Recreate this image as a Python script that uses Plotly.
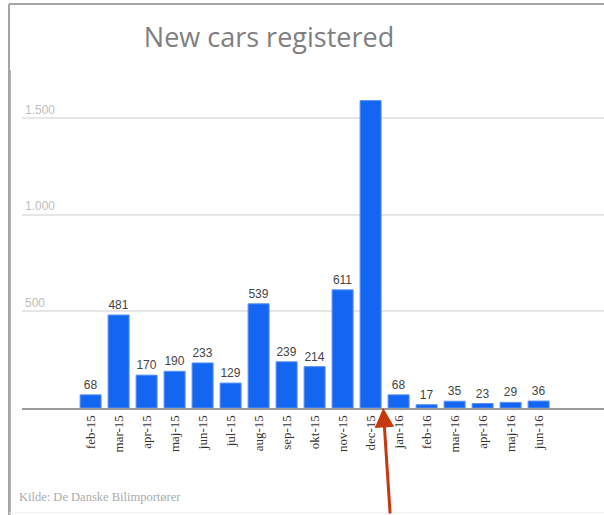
import plotly.graph_objects as go

months = ["feb-15", "mar-15", "apr-15", "maj-15", "jun-15", "jul-15", "aug-15",
          "sep-15", "okt-15", "nov-15", "dec-15", "jan-16", "feb-16", "mar-16",
          "apr-16", "maj-16", "jun-16"]
registered = [68, 481, 170, 190, 233, 129, 539, 239, 214, 611, 1590, 68, 17, 35, 23, 29, 36]
shown_labels = [str(v) if v < 1000 else "" for v in registered]
y_ticks = [500, 1000, 1500]

W, H = 604, 515
L, T = 22, 90
BASE = 408
R, B = 0, H - BASE
pw, ph = W - L - R, H - T - B

def px(x):
    return (x - L) / pw

def py(y):
    return (BASE - y) / ph

fig = go.Figure()
fig.add_trace(go.Bar(
    x=months, y=registered,
    marker=dict(color="#1366F1", line=dict(color="#5A92F5", width=1)),
    text=shown_labels, textposition="outside",
    textfont=dict(family="Arial, Liberation Sans", size=12, color="#444444"),
    cliponaxis=False, hoverinfo="x+y",
))

x0_idx = -2.45
x1_idx = x0_idx + pw / 28.0

fig.update_layout(
    width=W, height=H,
    margin=dict(l=L, r=R, t=T, b=B, autoexpand=False),
    paper_bgcolor="white", plot_bgcolor="white",
    separators=",.",
    bargap=0.25,
    showlegend=False,
    title=dict(text="New cars registered", x=269 / W, xanchor="center",
               y=1 - 38 / H, yanchor="middle",
               font=dict(family="Open Sans", size=27, color="#7F7F7F")),
    xaxis=dict(
        type="category", range=[x0_idx, x1_idx],
        tickangle=-90, ticks="", showgrid=False,
        showline=True, linecolor="#9A9A9A", linewidth=2,
        tickfont=dict(family="Liberation Serif", size=13, color="#333333"),
        fixedrange=True,
    ),
    yaxis=dict(
        range=[0, ph / (290 / 1500)],
        tickvals=y_ticks, ticklabelposition="inside top",
        tickformat=",d",
        showgrid=True, gridcolor="#E6E6E6", gridwidth=1.5,
        zeroline=False, showline=False, ticks="",
        tickfont=dict(family="Arial, Liberation Sans", size=12, color="#BDBDBD"),
        fixedrange=True,
    ),
)

# slide border lines
fig.add_shape(type="line", xref="paper", yref="paper", x0=px(9), x1=px(620), y0=py(4), y1=py(4),
              line=dict(color="#A6A6A6", width=2))
fig.add_shape(type="line", xref="paper", yref="paper", x0=px(9), x1=px(9), y0=py(4), y1=py(530),
              line=dict(color="#A6A6A6", width=2))
fig.add_shape(type="line", xref="paper", yref="paper", x0=px(10.5), x1=px(10.5), y0=py(70), y1=py(530),
              line=dict(color="#B5B5B5", width=1))
fig.add_shape(type="line", xref="paper", yref="paper", x0=px(9), x1=px(620), y0=py(513), y1=py(513),
              line=dict(color="#EEEEEE", width=1))

# source note
fig.add_annotation(xref="paper", yref="paper", x=px(17), y=py(497), xanchor="left", yanchor="middle",
                   text="Kilde: De Danske Bilimportører", showarrow=False,
                   font=dict(family="Liberation Serif", size=12.5, color="#ABABAB"))

# red arrow pointing to the gap after dec-15
fig.add_annotation(x=10.45, y=0, xref="x", yref="y", text="", showarrow=True,
                   arrowhead=2, arrowsize=1.3, arrowwidth=3, arrowcolor="#C8380E",
                   ax=7, ay=110, standoff=0)

fig.write_html("out.html", config={"displayModeBar": False},
               post_script="document.body.style.margin='0';document.body.style.overflow='hidden';")
